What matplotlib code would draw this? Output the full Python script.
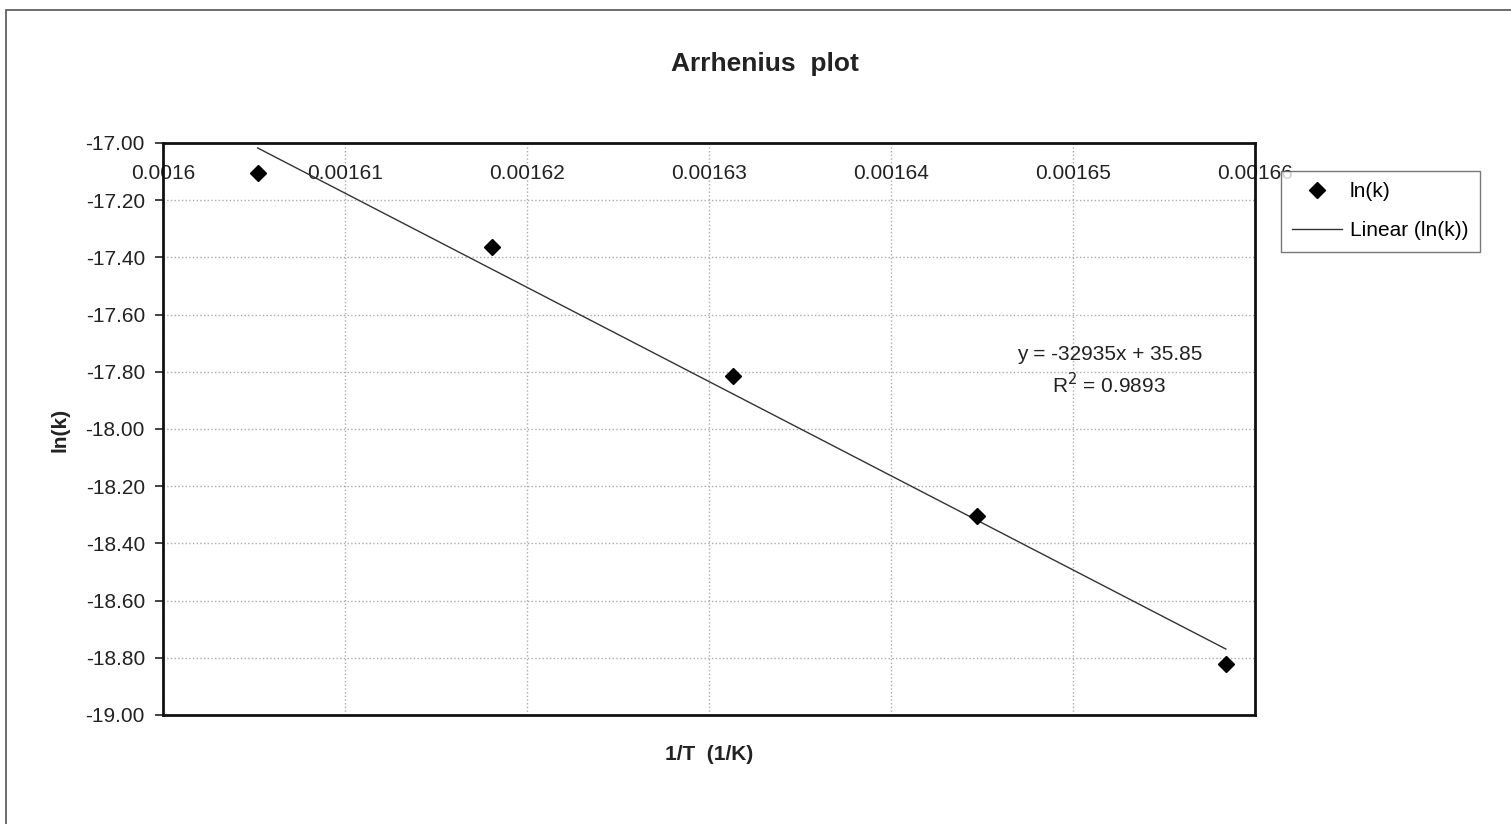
import numpy as np
import matplotlib.pyplot as plt
from matplotlib.patches import Rectangle

# data
inv_t = [0.0016052, 0.0016181, 0.0016313, 0.0016447, 0.0016584]
ln_k = [-17.105, -17.364, -17.815, -18.304, -18.822]

# trendline from the equation shown on the chart
slope = -32935
intercept = 35.85
r_squared = 0.9893

x_ticks = [0.0016, 0.00161, 0.00162, 0.00163, 0.00164, 0.00165, 0.00166]
x_tick_labels = ["0.0016", "0.00161", "0.00162", "0.00163", "0.00164", "0.00165", "0.00166"]
y_ticks = [-17.0, -17.2, -17.4, -17.6, -17.8, -18.0, -18.2, -18.4, -18.6, -18.8, -19.0]

plt.rcParams['font.family'] = ['Liberation Sans', 'DejaVu Sans']

fig = plt.figure(figsize=(15.11, 8.24), dpi=100)
ax = fig.add_axes([163 / 1511, 1 - 715 / 824, 1092 / 1511, 572 / 824])

# outer chart border (only top and left visible)
fig.patches.append(Rectangle((6 / 1511, -0.1), 1.2, 1 - 10 / 824 + 0.1,
                             transform=fig.transFigure, fill=False,
                             edgecolor='#555555', linewidth=1.2))

# scatter points and trendline
ax.plot(inv_t, ln_k, linestyle='none', marker='D', markersize=8.5,
        color='black', label='ln(k)', zorder=3)
xs = np.array([inv_t[0], inv_t[-1]])
ax.plot(xs, slope * xs + intercept, color='#333333', linewidth=1,
        label='Linear (ln(k))', zorder=2)

ax.set_xlim(0.0016, 0.00166)
ax.set_ylim(-19.0, -17.0)
ax.set_xticks(x_ticks)
ax.set_xticklabels(x_tick_labels)
ax.set_yticks(y_ticks)
ax.set_yticklabels([f"{v:.2f}" for v in y_ticks])

# x labels sit just under the top spine, inside the plot
ax.tick_params(axis='x', top=True, labeltop=True, bottom=False, labelbottom=False,
               length=0, pad=-29, labelsize=15, colors='#222222')
ax.tick_params(axis='y', direction='out', length=6, width=1.2, pad=7,
               labelsize=15, colors='#222222')

ax.grid(True, linestyle=':', color='#aaaaaa', linewidth=1)
for s in ax.spines.values():
    s.set_linewidth(2)
    s.set_color('#111111')

ax.text(0.001652, -17.797, f"y = {slope}x + {intercept}\nR$^2$ = {r_squared}",
        ha='center', va='center', fontsize=15, color='#222222', linespacing=1.35)

fig.text(765 / 1511, 1 - 64 / 824, "Arrhenius  plot", ha='center', va='center',
         fontsize=19, fontweight='bold', color='#222222')
fig.text(709 / 1511, 1 - 754 / 824, "1/T  (1/K)", ha='center', va='center',
         fontsize=15, fontweight='bold', color='#222222')
fig.text(60 / 1511, 1 - 430 / 824, "ln(k)", ha='center', va='center', rotation=90,
         fontsize=15, fontweight='bold', color='#222222')

leg = fig.legend(loc='upper left', bbox_to_anchor=(1281 / 1511, 1 - 171 / 824),
                 bbox_transform=fig.transFigure, borderaxespad=0, fontsize=15,
                 frameon=True, fancybox=False, edgecolor='#555555',
                 handlelength=2.4, handletextpad=0.35, labelspacing=0.95,
                 borderpad=0.55)
leg.get_frame().set_linewidth(1)

fig.savefig("out.png", dpi=100)
